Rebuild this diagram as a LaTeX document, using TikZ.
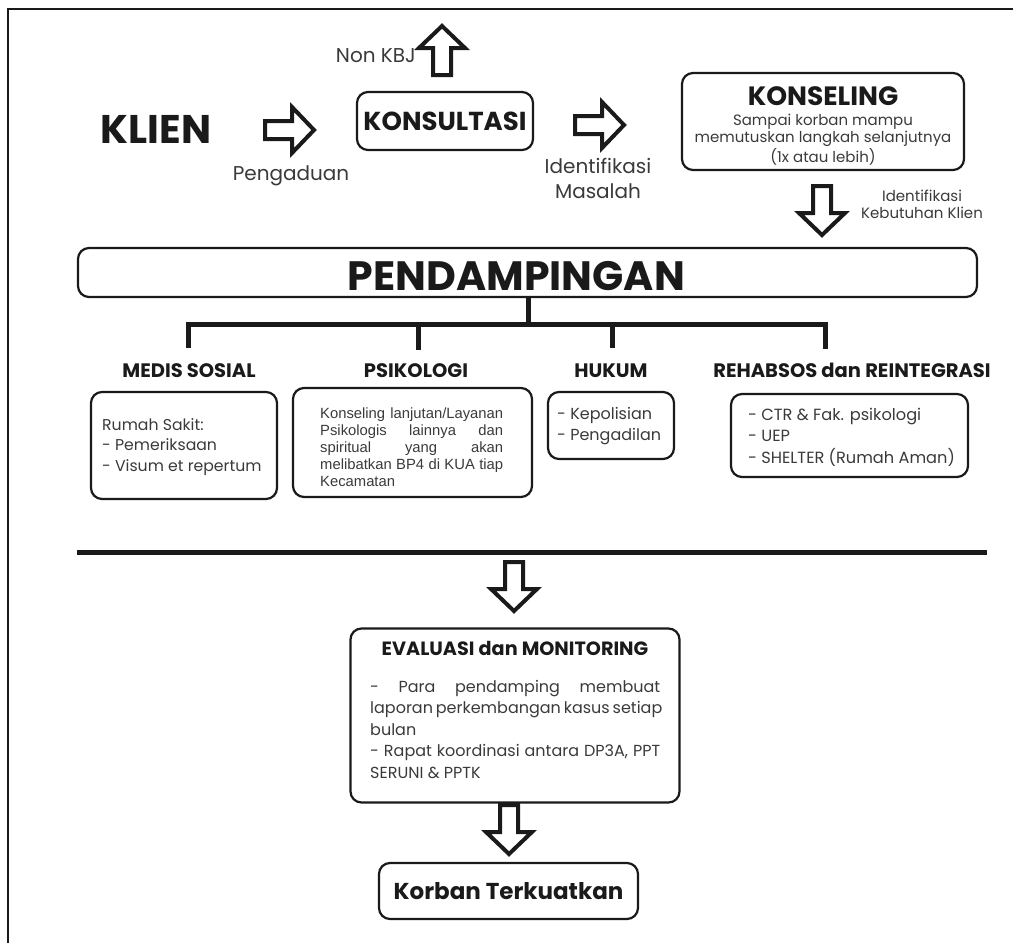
\documentclass[tikz,border=0pt]{standalone}
\usepackage{fontspec}
\setmainfont{Poppins}
\newfontfamily\arialf{Liberation Sans}
\definecolor{ink}{HTML}{1A1A1A}
\definecolor{txt}{HTML}{3A3A3A}
\tikzset{
  rbox/.style={draw=ink, line width=2.2pt, rounded corners=11pt, inner sep=0pt},
  hd/.style={text=ink, inner sep=0pt},
  sub/.style={hd, font=\fontsize{19.5}{23}\selectfont\bfseries, anchor=base},
  lt/.style={text=txt, inner sep=0pt},
  barrow/.style={draw=ink, line width=4pt, fill=white, line join=miter},
  tree/.style={draw=ink, line width=5pt, line join=miter},
  frame/.style={draw=ink, line width=2pt},
  blockarrow/.pic={\path[barrow] (-27,-9) -- (0,-9) -- (0,-23) -- (22,0) -- (0,23) -- (0,9) -- (-27,9) -- cycle;}
}
\begin{document}
\begin{tikzpicture}[x=1pt,y=-1pt]
\useasboundingbox (0,0) rectangle (1013,943);
\draw[frame] (8,943) -- (8,9) -- (1013,9);

% top row
\node[hd, font=\fontsize{40}{48}\selectfont\bfseries, anchor=base] (klien) at (156,143) {KLIEN};
\pic at (292,130) {blockarrow};
\node[lt, font=\fontsize{20}{24}\selectfont, anchor=base] (peng) at (291,180) {Pengaduan};
\node[rbox, minimum width=176pt, minimum height=58pt, text=ink, font=\fontsize{26}{30}\selectfont\bfseries] (kons) at (445,121) {KONSULTASI};
\pic[rotate=90] at (442,48) {blockarrow};
\node[lt, font=\fontsize{20}{24}\selectfont, anchor=base east] (nonkbj) at (416,62) {Non KBJ};
\pic at (602,125) {blockarrow};
\node[lt, align=center, font=\fontsize{20}{24.5}\selectfont, anchor=base] (idm) at (598,198) {Identifikasi\\Masalah};
\node[rbox, minimum width=282pt, minimum height=97pt] (konsel) at (823,121.5) {};
\node[hd, font=\fontsize{26.5}{30}\selectfont\bfseries, anchor=base] (konseltitle) at (823,105) {KONSELING};
\node[lt, align=center, font=\fontsize{15}{17}\selectfont, anchor=base] (konseltext) at (823,162) {Sampai korban mampu\\memutuskan langkah selanjutnya\\(1x atau lebih)};
\pic[rotate=-90] at (822,213) {blockarrow};
\node[lt, align=center, font=\fontsize{15}{16.5}\selectfont, anchor=base] (idk) at (922,218) {Identifikasi\\Kebutuhan Klien};

% pendampingan
\node[rbox, minimum width=899pt, minimum height=49pt] (pend) at (527.5,272.5) {};
\node[hd, font=\fontsize{41}{48}\selectfont\bfseries, anchor=base] (pendtitle) at (516.5,290) {PENDAMPINGAN};
\coordinate (stem) at (528,324);
\coordinate (b1) at (188,324);
\coordinate (b2) at (418,324);
\coordinate (b3) at (612,324);
\coordinate (b4) at (825,324);
\draw[tree] (pend.south -| stem) -- (stem);
\draw[tree] (188,348) -- (b1) -- (b4) -- (825,349);
\draw[tree] (b2) -- (418,350);
\draw[tree] (b3) -- (612,348);

% headings
\node[sub] (h1) at (189,377) {MEDIS SOSIAL};
\node[sub] (h2) at (416,377) {PSIKOLOGI};
\node[sub] (h3) at (611,377) {HUKUM};
\node[sub] (h4) at (852,377) {REHABSOS dan REINTEGRASI};

% boxes
\node[rbox, minimum width=186pt, minimum height=107pt] (medis) at (184,445.5) {};
\node[lt, align=left, font=\fontsize{15.7}{20.5}\selectfont, anchor=base west] (medistext) at (102,471) {Rumah Sakit:\\- Pemeriksaan\\- Visum et repertum};
\node[rbox, minimum width=239pt, minimum height=109pt] (psiko) at (412.5,442.5) {};
\node[lt, align=left, font=\arialf\fontsize{14.8}{16.8}\selectfont, anchor=base west] (psikotext) at (320,486) {\makebox[183pt][s]{Konseling lanjutan/Layanan}\\\makebox[183pt][s]{Psikologis lainnya dan}\\\makebox[183pt][s]{spiritual yang akan}\\\makebox[183pt][s]{melibatkan BP4 di KUA tiap}\\Kecamatan};
\node[rbox, minimum width=126pt, minimum height=67pt] (hukum) at (611,425.5) {};
\node[lt, align=left, font=\fontsize{16}{21}\selectfont, anchor=base west] (hukumtext) at (557,440) {- Kepolisian\\- Pengadilan};
\node[rbox, minimum width=237pt, minimum height=83pt] (rehab) at (849.5,435.5) {};
\node[lt, align=left, font=\fontsize{16.2}{21.5}\selectfont, anchor=base west] (rehabtext) at (748,463) {- CTR \& Fak. psikologi\\- UEP\\- SHELTER (Rumah Aman)};

% separator
\draw[tree] (77,552) -- (987,552);
\pic[rotate=-90] at (514,589) {blockarrow};

% evaluasi
\node[rbox, minimum width=329pt, minimum height=174pt] (eval) at (515,715.5) {};
\node[hd, font=\fontsize{19.2}{23}\selectfont\bfseries, anchor=base] (evaltitle) at (515,655) {EVALUASI dan MONITORING};
\node[lt, align=left, font=\fontsize{16}{21.5}\selectfont, anchor=base west] (evaltext) at (370,778) {\makebox[290pt][s]{- Para pendamping membuat}\\\makebox[290pt][s]{laporan perkembangan kasus setiap}\\bulan\\\makebox[290pt][s]{- Rapat koordinasi antara DP3A, PPT}\\SERUNI \& PPTK};
\pic[rotate=-90] at (509,832) {blockarrow};
\node[rbox, minimum width=259pt, minimum height=56pt, text=ink, font=\fontsize{23}{28}\selectfont\bfseries] (korban) at (508.5,891) {Korban Terkuatkan};
\end{tikzpicture}
\end{document}
